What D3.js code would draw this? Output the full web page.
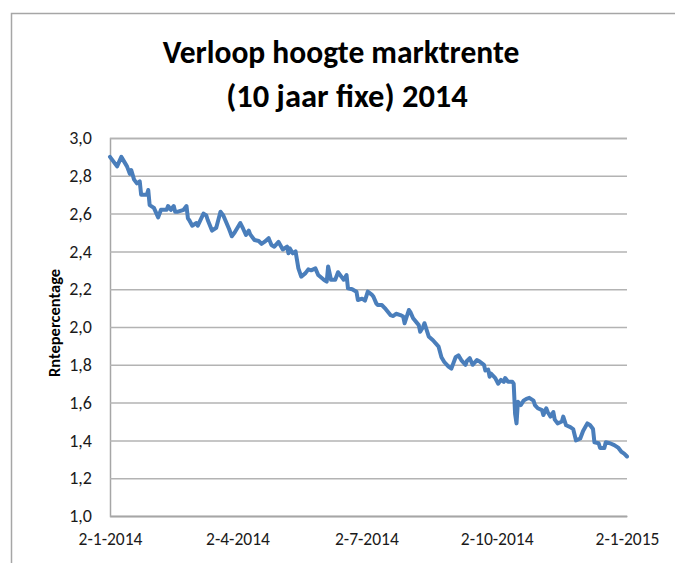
<!DOCTYPE html>
<html>
<head>
<meta charset="utf-8">
<script src="https://cdn.jsdelivr.net/npm/d3@7/dist/d3.min.js"></script>
<style>
  html, body { margin: 0; padding: 0; background: #fff; }
  svg { display: block; }
</style>
</head>
<body>
<script>
// ---- data ----
const titleLines = ["Verloop hoogte marktrente", "(10 jaar fixe) 2014"];
const yAxisTitle = "Rntepercentage";
const yTickValues = [1.0, 1.2, 1.4, 1.6, 1.8, 2.0, 2.2, 2.4, 2.6, 2.8, 3.0];
const xTickDates = ["2014-01-02", "2014-04-02", "2014-07-02", "2014-10-02", "2015-01-02"];
const dates = [
  "2014-01-02","2014-01-07","2014-01-10","2014-01-14","2014-01-15","2014-01-16","2014-01-17","2014-01-19",
  "2014-01-21","2014-01-23","2014-01-24","2014-01-28","2014-01-29","2014-01-30","2014-02-02","2014-02-05",
  "2014-02-07","2014-02-11","2014-02-12","2014-02-14","2014-02-16","2014-02-17","2014-02-19","2014-02-23",
  "2014-02-25","2014-02-26","2014-02-27","2014-03-01","2014-03-04","2014-03-05","2014-03-09","2014-03-11",
  "2014-03-12","2014-03-15","2014-03-18","2014-03-21","2014-03-23","2014-03-27","2014-03-29","2014-03-31",
  "2014-04-04","2014-04-06","2014-04-08","2014-04-10","2014-04-11","2014-04-14","2014-04-17","2014-04-19",
  "2014-04-21","2014-04-24","2014-04-26","2014-04-28","2014-05-01","2014-05-04","2014-05-07","2014-05-08",
  "2014-05-09","2014-05-11","2014-05-13","2014-05-15","2014-05-17","2014-05-20","2014-05-22","2014-05-24",
  "2014-05-27","2014-05-29","2014-06-02","2014-06-04","2014-06-05","2014-06-07","2014-06-10","2014-06-12",
  "2014-06-15","2014-06-16","2014-06-18","2014-06-19","2014-06-22","2014-06-25","2014-06-26","2014-06-29",
  "2014-07-01","2014-07-03","2014-07-06","2014-07-07","2014-07-09","2014-07-10","2014-07-13","2014-07-15",
  "2014-07-19","2014-07-21","2014-07-23","2014-07-26","2014-07-28","2014-07-29","2014-08-01","2014-08-02",
  "2014-08-04","2014-08-08","2014-08-09","2014-08-11","2014-08-12","2014-08-15","2014-08-18","2014-08-22",
  "2014-08-24","2014-08-26","2014-08-29","2014-08-31","2014-09-03","2014-09-05","2014-09-07","2014-09-10",
  "2014-09-11","2014-09-13","2014-09-15","2014-09-18","2014-09-20","2014-09-23","2014-09-24","2014-09-26",
  "2014-09-27","2014-09-28","2014-10-01","2014-10-03","2014-10-05","2014-10-07","2014-10-08","2014-10-10",
  "2014-10-13","2014-10-14","2014-10-15","2014-10-16","2014-10-17","2014-10-19","2014-10-21","2014-10-23",
  "2014-10-25","2014-10-28","2014-10-29","2014-10-31","2014-11-03","2014-11-04","2014-11-06","2014-11-07",
  "2014-11-09","2014-11-11","2014-11-12","2014-11-14","2014-11-17","2014-11-18","2014-11-20","2014-11-23",
  "2014-11-25","2014-11-27","2014-11-30","2014-12-02","2014-12-05","2014-12-07","2014-12-09","2014-12-10",
  "2014-12-13","2014-12-14","2014-12-17","2014-12-18","2014-12-21","2014-12-24","2014-12-27","2014-12-29",
  "2014-12-31","2015-01-02"
];
const rates = [
  2.90,2.85,2.90,2.85,2.83,2.81,2.83,2.78,
  2.76,2.77,2.70,2.70,2.725,2.645,2.63,2.58,
  2.62,2.62,2.64,2.62,2.64,2.61,2.61,2.62,
  2.64,2.575,2.565,2.536,2.55,2.536,2.60,2.59,
  2.566,2.51,2.525,2.61,2.59,2.52,2.48,2.50,
  2.55,2.52,2.487,2.51,2.49,2.46,2.455,2.44,
  2.45,2.47,2.434,2.425,2.45,2.41,2.425,2.39,
  2.416,2.39,2.40,2.31,2.266,2.285,2.305,2.30,
  2.31,2.275,2.25,2.24,2.32,2.25,2.25,2.29,
  2.26,2.25,2.275,2.205,2.20,2.187,2.143,2.15,
  2.14,2.187,2.17,2.16,2.125,2.116,2.116,2.10,
  2.063,2.058,2.07,2.063,2.055,2.02,2.09,2.08,
  2.046,2.01,1.975,2.00,2.02,1.95,1.93,1.896,
  1.84,1.815,1.79,1.78,1.84,1.85,1.825,1.80,
  1.82,1.835,1.80,1.825,1.817,1.80,1.77,1.775,
  1.737,1.754,1.73,1.70,1.72,1.71,1.73,1.71,
  1.71,1.70,1.54,1.49,1.605,1.587,1.61,1.62,
  1.625,1.61,1.587,1.57,1.56,1.534,1.57,1.55,
  1.526,1.55,1.51,1.49,1.50,1.526,1.48,1.47,
  1.46,1.40,1.41,1.45,1.49,1.48,1.46,1.39,
  1.385,1.36,1.36,1.39,1.385,1.375,1.36,1.34,
  1.33,1.315
];

// ---- layout ----
const W = 675, H = 563;
const plot = { left: 110, right: 627, top: 138, bottom: 516 };
const parse = d3.timeParse("%Y-%m-%d");
const fmtTick = d => `${d.getDate()}-${d.getMonth() + 1}-${d.getFullYear()}`;
const fmtY = d3.format(".1f");

const svg = d3.select("body").append("svg").attr("width", W).attr("height", H);

// outer chart border (extends beyond the frame)
svg.append("rect")
  .attr("x", 11.5).attr("y", 13.5).attr("width", 700).attr("height", 600)
  .attr("fill", "#fff").attr("stroke", "#a6a6a6").attr("stroke-width", 1.5);

const x = d3.scaleTime()
  .domain([parse(xTickDates[0]), parse(xTickDates[xTickDates.length - 1])])
  .range([plot.left, plot.right]);
const y = d3.scaleLinear().domain([1.0, 3.0]).range([plot.bottom, plot.top]);

const fontFamily = "Carlito, Calibri, 'Open Sans', sans-serif";

// title
svg.append("g").selectAll("text").data(titleLines).join("text")
  .attr("x", (d, i) => i === 0 ? 341 : 347).attr("y", (d, i) => 63 + i * 44)
  .attr("text-anchor", "middle")
  .attr("font-family", fontFamily).attr("font-weight", "bold")
  .attr("font-size", (d, i) => i === 0 ? 31.5 : 32.5).attr("fill", "#000")
  .text(d => d);

// gridlines + y axis
const yAxis = d3.axisLeft(y).tickValues(yTickValues).tickSize(-(plot.right - plot.left))
  .tickPadding(18).tickFormat(d => fmtY(d).replace(".", ","));
const gy = svg.append("g").attr("transform", `translate(${plot.left},0)`).call(yAxis);
gy.select(".domain").attr("stroke", "#a6a6a6").attr("stroke-width", 1.5);
gy.selectAll(".tick line").attr("stroke", "#b3b3b3").attr("stroke-width", 1.5);
gy.selectAll(".tick text").attr("font-family", fontFamily).attr("font-size", 18).attr("fill", "#1a1a1a");

const xAxis = d3.axisBottom(x).tickValues(xTickDates.map(parse)).tickSize(0)
  .tickPadding(17).tickFormat(fmtTick);
const gx = svg.append("g").attr("transform", `translate(0,${plot.bottom})`).call(xAxis);
gx.select(".domain").attr("stroke", "#a6a6a6").attr("stroke-width", 1.5);
gx.selectAll(".tick text").attr("font-family", fontFamily).attr("font-size", 17.5).attr("fill", "#1a1a1a");

// y axis title
svg.append("text")
  .attr("transform", `translate(60,${323}) rotate(-90)`)
  .attr("text-anchor", "middle")
  .attr("font-family", fontFamily).attr("font-weight", "bold").attr("font-size", 16.5)
  .attr("fill", "#000").text(yAxisTitle);

// the line
const data = dates.map((d, i) => ({ date: parse(d), value: rates[i] }));
svg.append("path").datum(data)
  .attr("fill", "none").attr("stroke", "#4a7ebb").attr("stroke-width", 4)
  .attr("stroke-linejoin", "round").attr("stroke-linecap", "round")
  .attr("d", d3.line().x(d => x(d.date)).y(d => y(d.value)));
</script>
</body>
</html>
